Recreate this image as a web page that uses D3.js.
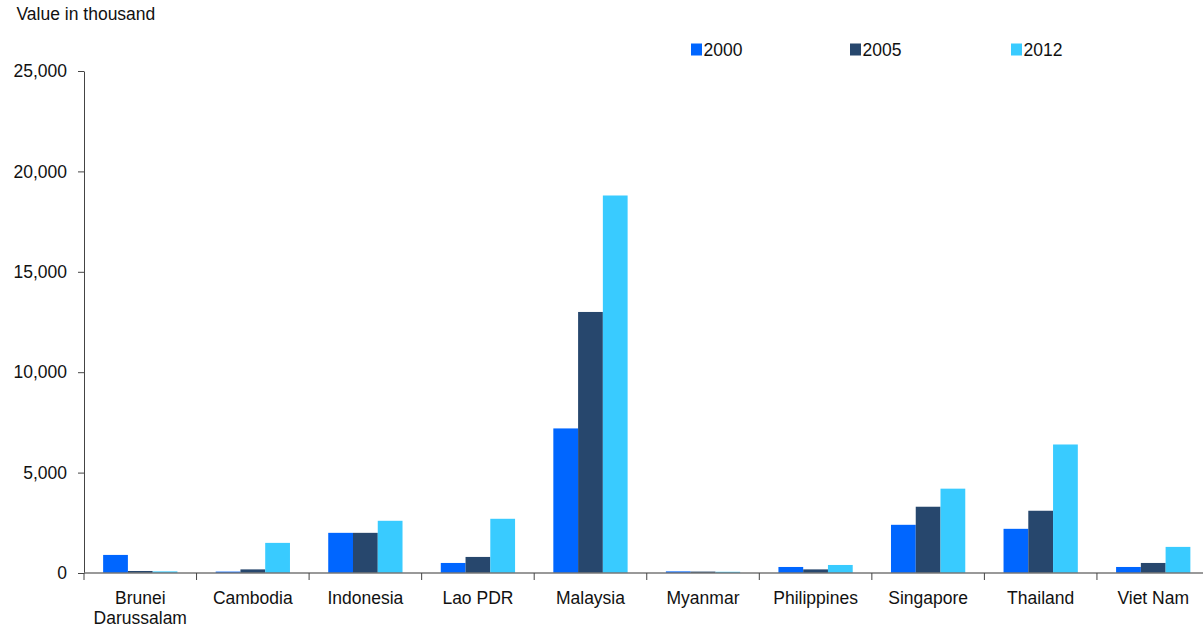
<!DOCTYPE html>
<html>
<head>
<meta charset="utf-8">
<script src="https://cdn.jsdelivr.net/npm/d3@7"></script>
<style>
  html, body { margin: 0; padding: 0; background: #fff; }
  svg { display: block; font-family: "Liberation Sans", Arial, sans-serif; }
</style>
</head>
<body>
<svg id="chart" width="1203" height="627"></svg>
<script>
const categories = ["Brunei\nDarussalam", "Cambodia", "Indonesia", "Lao PDR", "Malaysia", "Myanmar", "Philippines", "Singapore", "Thailand", "Viet Nam"];
const seriesNames = ["2000", "2005", "2012"];
const values2000 = [900, 70, 2000, 500, 7200, 80, 300, 2400, 2200, 300];
const values2005 = [100, 180, 2000, 800, 13000, 70, 180, 3300, 3100, 500];
const values2012 = [80, 1500, 2600, 2700, 18800, 60, 400, 4200, 6400, 1300];
const yTicks = [0, 5000, 10000, 15000, 20000, 25000];
const colors = ["#0066ff", "#27476d", "#39cbff"];

const series = [values2000, values2005, values2012];
const svg = d3.select("#chart");

const x0 = d3.scaleBand().domain(categories).range([84, 1209.5]).paddingInner(0.34).paddingOuter(0.17);
const x1 = d3.scaleBand().domain(seriesNames).range([0, x0.bandwidth()]);
const y = d3.scaleLinear().domain([0, 25000]).range([573, 71]);

// bars
const groups = svg.append("g").selectAll("g").data(categories).join("g")
  .attr("transform", c => `translate(${x0(c)},0)`);
groups.selectAll("rect")
  .data((c, i) => seriesNames.map((s, k) => ({ s, k, v: series[k][i] })))
  .join("rect")
  .attr("x", d => x1(d.s))
  .attr("width", x1.bandwidth())
  .attr("y", d => y(d.v))
  .attr("height", d => y(0) - y(d.v))
  .attr("fill", d => colors[d.k]);

// y axis
const yAxis = svg.append("g").attr("transform", "translate(84,0)")
  .call(d3.axisLeft(y).tickValues(yTicks).tickFormat(d3.format(",")).tickSize(6).tickSizeOuter(0).tickPadding(11));
yAxis.select(".domain").attr("stroke", "#444");
yAxis.selectAll(".tick line").attr("stroke", "#444");
yAxis.selectAll("text").attr("font-size", "17.5px").attr("fill", "#111").attr("font-family", "Liberation Sans, Arial, sans-serif");

// x axis baseline
const step = x0.step();
const boundaries = categories.map(c => x0(c) - step * x0.paddingInner() / 2);
svg.append("line").attr("x1", 84).attr("x2", 1203).attr("y1", y(0)).attr("y2", y(0))
  .attr("stroke", "#777").attr("stroke-width", 1.3);
svg.append("g").selectAll("line").data(boundaries).join("line")
  .attr("x1", d => d).attr("x2", d => d).attr("y1", y(0)).attr("y2", y(0) + 7)
  .attr("stroke", "#444");

// category labels
const labels = svg.append("g").selectAll("text").data(categories).join("text")
  .attr("x", c => x0(c) + x0.bandwidth() / 2)
  .attr("y", 603.5)
  .attr("text-anchor", "middle")
  .attr("font-size", "17.5px")
  .attr("fill", "#111");
labels.each(function (c) {
  const parts = c.split("\n");
  d3.select(this).selectAll("tspan").data(parts).join("tspan")
    .attr("x", x0(c) + x0.bandwidth() / 2)
    .attr("dy", (p, i) => i === 0 ? 0 : 20)
    .text(p => p);
});

// axis title
svg.append("text").attr("x", 16.5).attr("y", 20).attr("font-size", "17.5px").attr("fill", "#111")
  .text("Value in thousand");

// legend
const legendX = [691, 850, 1011];
const legend = svg.append("g").selectAll("g").data(seriesNames).join("g")
  .attr("transform", (d, i) => `translate(${legendX[i]},0)`);
legend.append("rect").attr("x", 0).attr("y", 43.5).attr("width", 11).attr("height", 12)
  .attr("fill", (d, i) => colors[i]);
legend.append("text").attr("x", 12.5).attr("y", 56).attr("font-size", "17.5px").attr("fill", "#111")
  .text(d => d);
</script>
</body>
</html>
